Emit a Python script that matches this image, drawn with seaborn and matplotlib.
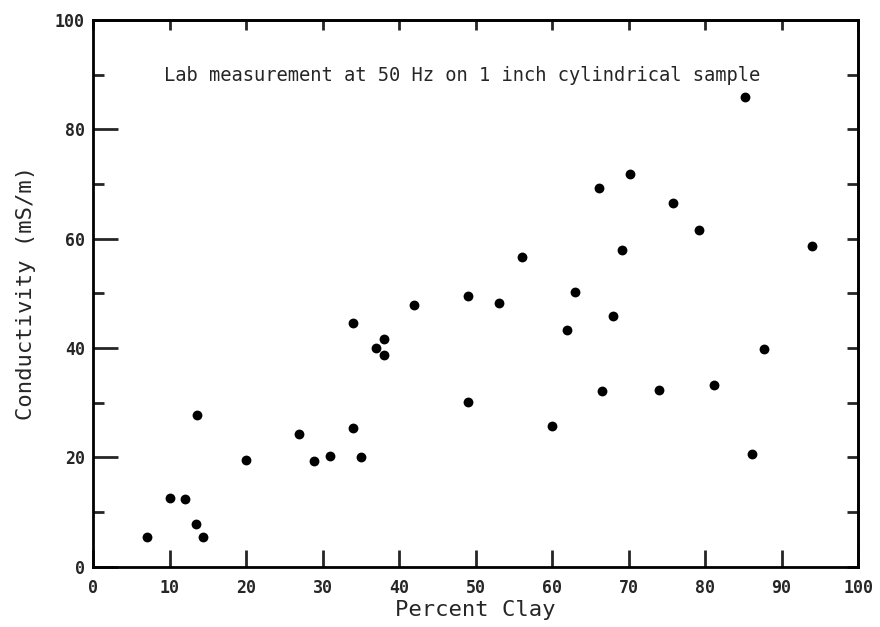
import pandas as pd
import matplotlib.pyplot as plt
import seaborn as sns

# Values
percent_clay = [7, 10, 12, 13.4, 14.3, 13.6, 20, 26.9, 28.9, 31, 34, 35, 34, 37, 38, 38,
                42, 49, 53, 60, 62, 66.5, 68, 74, 81.2, 87.7, 86.2, 85.2, 70.2, 66.1,
                75.8, 79.2, 94, 69.1, 56, 63, 49]
conductivity = [5.5, 12.6, 12.4, 7.8, 5.5, 27.7, 19.5, 24.3, 19.3, 20.2, 25.4, 20.1, 44.6,
                40.0, 41.6, 38.8, 47.8, 30.2, 48.2, 25.8, 43.4, 32.1, 45.8, 32.3, 33.2,
                39.8, 20.7, 86.0, 71.9, 69.3, 66.5, 61.6, 58.6, 58.0, 56.7, 50.2, 49.5]
x_ticks = list(range(0, 101, 10))
y_ticks = list(range(0, 101, 20))
y_minor = [10, 30, 50, 70, 90]
annotation = "Lab measurement at 50 Hz on 1 inch cylindrical sample"


def main():
    sns.set_style("ticks")
    plt.rcParams['font.family'] = ['DejaVu Sans Mono', 'DejaVu Sans']

    df = pd.DataFrame({'clay': percent_clay, 'cond': conductivity})

    fig = plt.figure(figsize=(8.8, 6.27), dpi=100)
    ax = fig.add_axes([0.106, 0.096, 0.869, 0.872])

    sns.scatterplot(data=df, x='clay', y='cond', ax=ax, color='black',
                    s=50, marker='o', edgecolor='black', linewidth=0)

    ax.set_xlim(0, 100)
    ax.set_ylim(0, 100)
    ax.set_xticks(x_ticks)
    ax.set_yticks(y_ticks)
    ax.set_yticks(y_minor, minor=True)

    for side in ['left', 'right', 'top', 'bottom']:
        ax.spines[side].set_visible(True)
        ax.spines[side].set_linewidth(2)
        ax.spines[side].set_color('black')

    # bottom / left ticks with labels
    ax.tick_params(axis='x', which='major', direction='in', length=12, width=2,
                   top=False, labelsize=12, pad=9)
    ax.tick_params(axis='y', which='major', direction='in', length=18, width=2,
                   right=False, labelsize=12, pad=6)
    ax.tick_params(axis='y', which='minor', direction='in', length=8, width=2,
                   right=False)
    for lbl in ax.get_xticklabels() + ax.get_yticklabels():
        lbl.set_fontweight('bold')

    # top / right: short unlabeled ticks every 10
    top = ax.secondary_xaxis('top')
    top.set_xticks(x_ticks)
    top.tick_params(direction='in', length=7, width=2, labeltop=False)
    top.spines['top'].set_linewidth(2)
    right = ax.secondary_yaxis('right')
    right.set_yticks(list(range(0, 101, 10)))
    right.tick_params(direction='in', length=8, width=2, labelright=False)
    right.spines['right'].set_linewidth(2)

    ax.set_xlabel('Percent Clay', fontsize=16, labelpad=2)
    ax.set_ylabel('Conductivity (mS/m)', fontsize=16, labelpad=14)

    ax.text(48.2, 89.8, annotation, fontsize=13.5, ha='center', va='center')

    fig.savefig('out.png', dpi=100)
    plt.close(fig)


if __name__ == "__main__":
    main()
